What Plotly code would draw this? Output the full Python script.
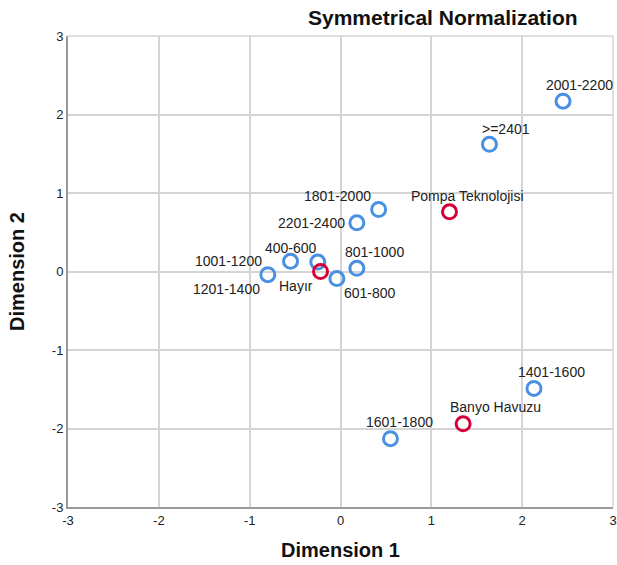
import plotly.graph_objects as go

# Row categories (blue)
row_labels = ["2001-2200", ">=2401", "1801-2000", "2201-2400", "801-1000",
              "400-600", "1001-1200", "1201-1400", "601-800", "1401-1600", "1601-1800"]
row_x = [2.45, 1.64, 0.42, 0.18, 0.18, -0.25, -0.55, -0.80, -0.04, 2.13, 0.55]
row_y = [2.17, 1.62, 0.79, 0.62, 0.04, 0.12, 0.13, -0.04, -0.09, -1.49, -2.13]

# Column categories (red)
col_labels = ["Pompa Teknolojisi", "Hayır", "Banyo Havuzu"]
col_x = [1.20, -0.22, 1.35]
col_y = [0.76, 0.00, -1.94]

# Axis ticks
tick_vals = [-3, -2, -1, 0, 1, 2, 3]
tick_text = ["-3", "-2", "-1", "0", "1", "2", "3"]

# label offsets in pixels (style only)
row_off = [(16, -16), (17, -15), (-41, -13), (-45, 0), (18, -16),
           (-27, -14), (-62, 0), (-41, 14), (33, 14), (18, -16), (9, -17)]
col_off = [(18, -16), (-25, 14), (32, -17)]

blue = "#4A90E2"
red = "#D5003A"
font_fam = "Liberation Sans, Arial, sans-serif"

fig = go.Figure()
fig.add_trace(go.Scatter(x=row_x, y=row_y, mode="markers",
                         marker=dict(symbol="circle-open", size=14, color=blue, line=dict(width=3, color=blue)),
                         showlegend=False, hoverinfo="text", text=row_labels))
fig.add_trace(go.Scatter(x=col_x, y=col_y, mode="markers",
                         marker=dict(symbol="circle-open", size=14, color=red, line=dict(width=3, color=red)),
                         showlegend=False, hoverinfo="text", text=col_labels))

annotations = []
for lab, x, y, (dx, dy) in list(zip(row_labels, row_x, row_y, row_off)) + list(zip(col_labels, col_x, col_y, col_off)):
    annotations.append(dict(x=x, y=y, xref="x", yref="y", text=lab, showarrow=False,
                            xshift=dx, yshift=-dy, font=dict(family=font_fam, size=14, color="#222222")))

annotations.append(dict(x=0.688, y=1.0, xref="paper", yref="paper", xanchor="center", yanchor="bottom", yshift=5,
                        text="<b>Symmetrical Normalization</b>", showarrow=False,
                        font=dict(family=font_fam, size=21, color="#111111")))

fig.update_layout(
    width=617, height=565,
    margin=dict(l=68, r=4, t=36, b=58, autoexpand=False),
    paper_bgcolor="white", plot_bgcolor="white",
    font=dict(family=font_fam, size=13, color="#222222"),
    annotations=annotations,
    shapes=[
        dict(type="line", xref="paper", yref="paper", x0=0, x1=1, y0=1, y1=1, line=dict(color="#d4d4d4", width=1.5)),
        dict(type="line", xref="paper", yref="paper", x0=1, x1=1, y0=0, y1=1, line=dict(color="#d4d4d4", width=1.5)),
    ],
)
fig.update_xaxes(range=[-3, 3], tickvals=tick_vals, ticktext=tick_text, showgrid=True, gridcolor="#d4d4d4", gridwidth=1.5,
                 zeroline=False, showline=True, linecolor="#9a9a9a", linewidth=2, ticks="", automargin=False,
                 tickfont=dict(size=13, color="#222222"),
                 title=dict(text="<b>Dimension 1</b>", font=dict(size=20, color="#111111"), standoff=16))
fig.update_yaxes(range=[-3, 3], tickvals=tick_vals, ticktext=tick_text, showgrid=True, gridcolor="#d4d4d4", gridwidth=1.5,
                 zeroline=False, showline=True, linecolor="#9a9a9a", linewidth=2, ticks="", automargin=False,
                 tickfont=dict(size=13, color="#222222"),
                 title=dict(text="<b>Dimension 2</b>", font=dict(size=20, color="#111111"), standoff=22))

fig.write_html("out.html")
